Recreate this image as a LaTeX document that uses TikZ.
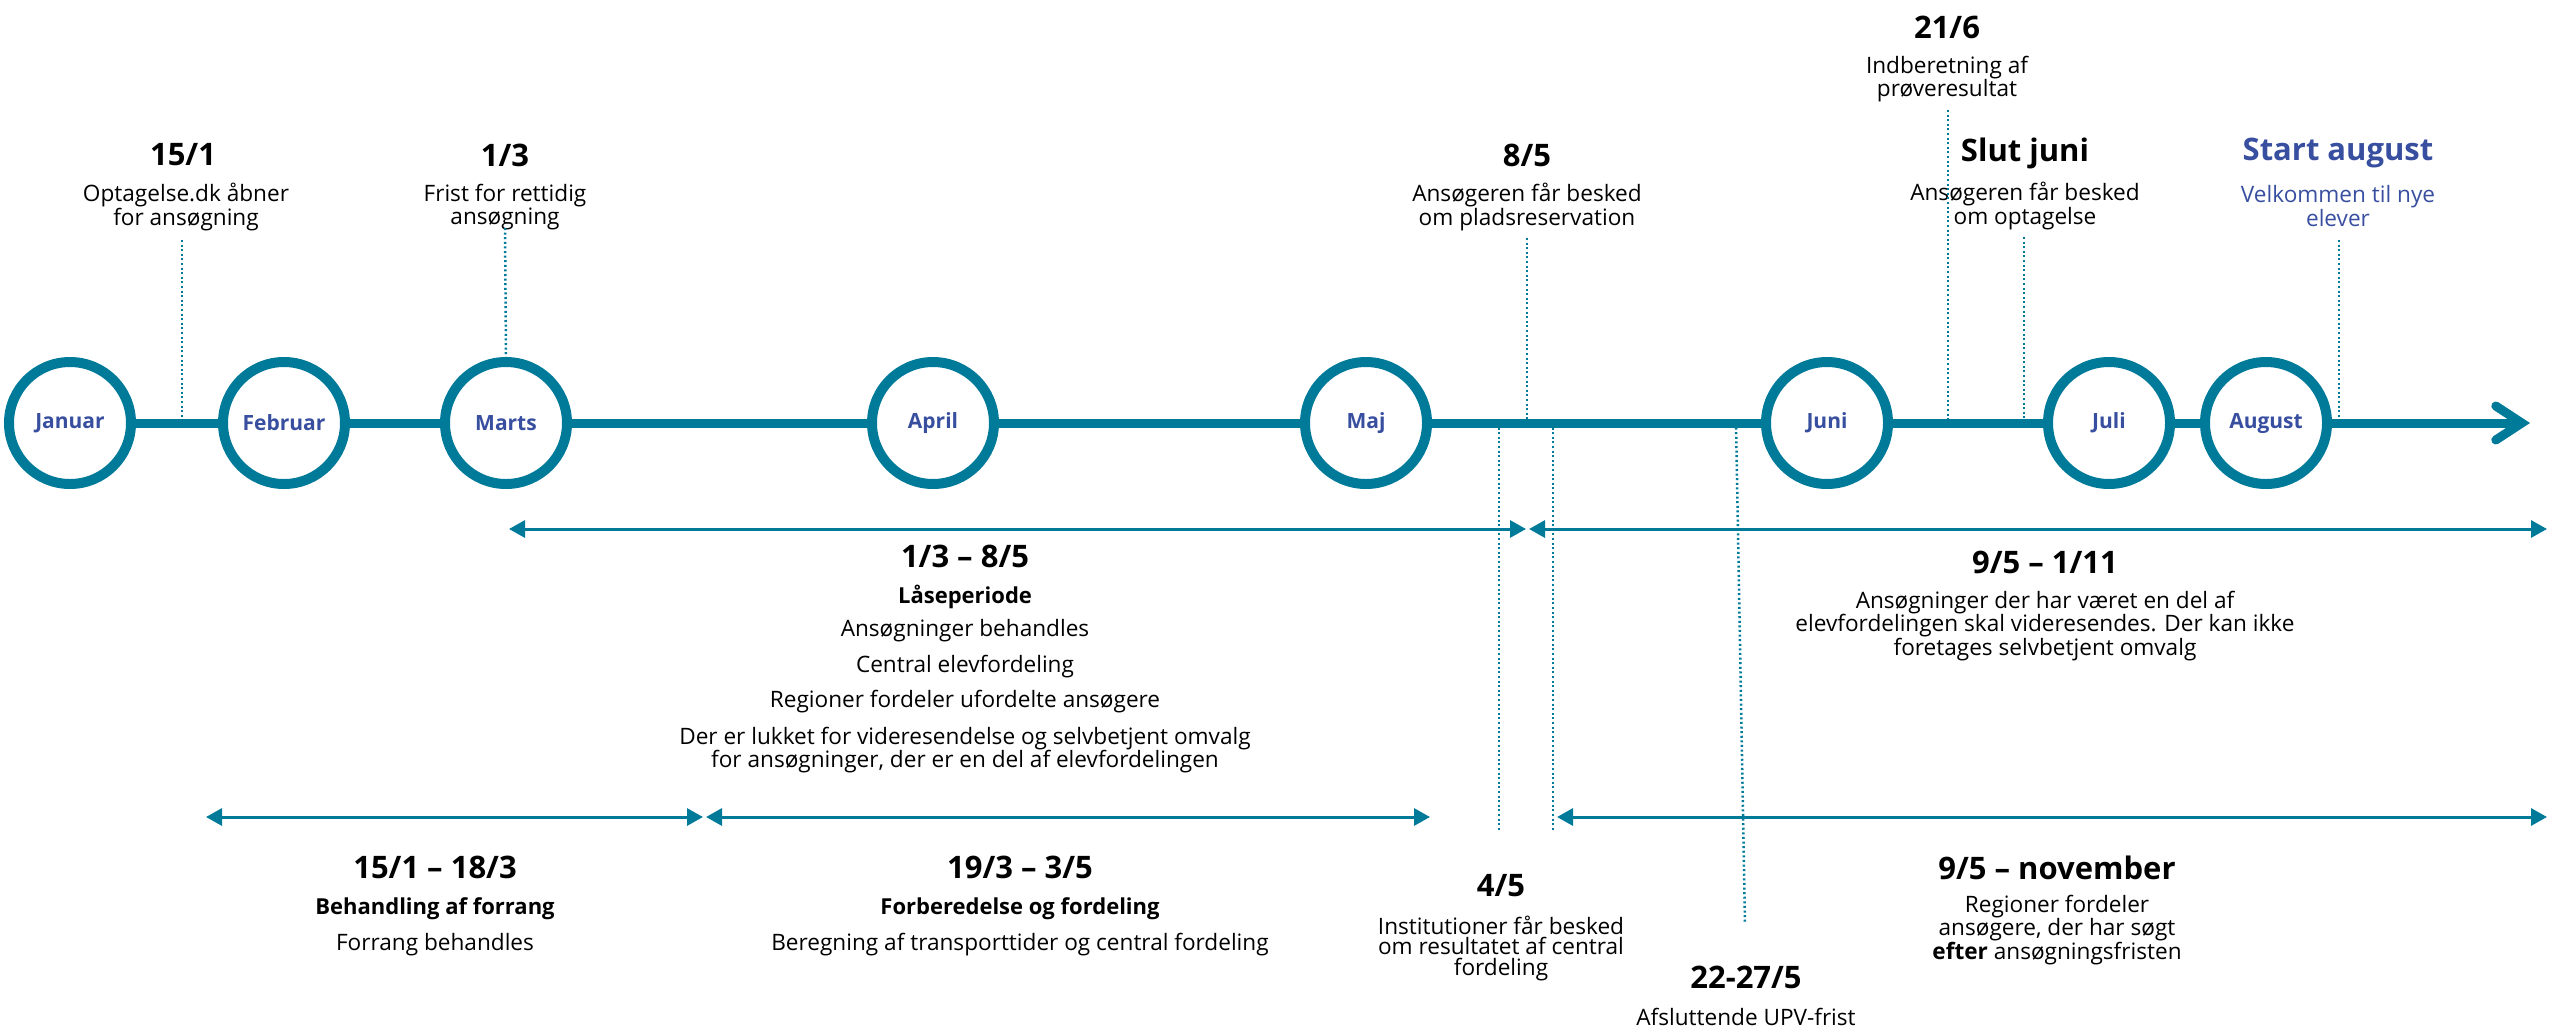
\documentclass[tikz,border=0pt]{standalone}
\usepackage{fontspec}
\setmainfont{Open Sans}
\usetikzlibrary{arrows.meta}
\definecolor{tlteal}{RGB}{0,122,153}
\definecolor{tlblue}{RGB}{56,79,160}

\begin{document}
\begin{tikzpicture}[
   x=1pt, y=-1pt,
   month/.style={circle,draw=tlteal,line width=10pt,fill=white,minimum size=122pt,inner sep=0pt,text=tlblue,font=\bfseries\fontsize{21}{21}\selectfont},
   axis/.style={draw=tlteal,line width=9pt},
   date/.style={font=\bfseries\fontsize{31}{31}\selectfont,inner sep=0pt},
   head/.style={font=\bfseries\fontsize{22}{22}\selectfont,inner sep=0pt},
   txt/.style={font=\fontsize{22.6}{20.5}\selectfont,align=center,inner sep=0pt},
   guide/.style={draw=tlteal,line width=2.5pt,dash pattern=on 2pt off 2.6pt},
   span/.style={{Triangle[length=16pt,width=17pt]}-{Triangle[length=16pt,width=17pt]},draw=tlteal,line width=3pt}]
\useasboundingbox (0,0) rectangle (2549,1026);
% months
\node[month] (jan) at (70,423) {Januar};
\node[month] (feb) at (284,423) {Februar};
\node[month] (mar) at (506,423) {Marts};
\node[month] (apr) at (933,423) {April};
\node[month] (maj) at (1366,423) {Maj};
\node[month] (jun) at (1827,423) {Juni};
\node[month] (jul) at (2109,423) {Juli};
\node[month] (aug) at (2266,423) {August};
\coordinate (end) at (2530,423);
\draw[axis] (jan) -- (feb) -- (mar) -- (apr) -- (maj) -- (jun) -- (jul) -- (aug);
\draw[axis,-{Straight Barb[length=26pt,width=34pt,line cap=round]}] (aug) -- (end);
% dates above
\node[date] (d151) at (183,155) {15/1};
\node[txt] (o151) at (186,207) {Optagelse.dk åbner\\for ansøgning};
\node[date] (d13) at (505,155) {1/3};
\node[txt] (o13) at (505,207) {Frist for rettidig\\ansøgning};
\node[date] (d85) at (1527,155) {8/5};
\node[txt] (o85) at (1527,207) {Ansøgeren får besked\\om pladsreservation};
\node[date] (d216) at (1947,27) {21/6};
\node[txt] (o216) at (1947,79) {Indberetning af\\prøveresultat};
\node[date] (dslut) at (2025,153) {Slut juni};
\node[txt] (oslut) at (2025,206) {Ansøgeren får besked\\om optagelse};
\node[date,text=tlblue] (dstart) at (2338,153) {Start august};
\node[txt,text=tlblue] (ostart) at (2338,206) {Velkommen til nye\\elever};
\coordinate (g151) at (182,240);
\coordinate (g13) at (505,228);
\coordinate (g85) at (1527,238);
\coordinate (g216) at (1948,110);
\coordinate (gslut) at (2024,237);
\coordinate (gstart) at (2339,240);
\draw[guide] (g151) -- (g151 |- jan);
\draw[guide] (g13) -- (mar.north);
\draw[guide] (g85) -- (g85 |- jan);
\draw[guide] (g216) -- (g216 |- jan);
\draw[guide] (gslut) -- (gslut |- jan);
\draw[guide] (gstart) -- (gstart |- jan);
% periods
\coordinate (a1) at (509,529);
\coordinate (a2) at (1526,529);
\coordinate (a3) at (1529,529);
\coordinate (a4) at (2547,529);
\draw[span] (a1) -- (a2);
\draw[span] (a3) -- (a4);
\node[date] (p1) at (965,556) {1/3 – 8/5};
\node[head] (p1h) at (965,597) {Låseperiode};
\node[txt] (p1a) at (965,631) {Ansøgninger behandles};
\node[txt] (p1b) at (965,667) {Central elevfordeling};
\node[txt] (p1c) at (965,702) {Regioner fordeler ufordelte ansøgere};
\node[txt] (p1d) at (965,750) {Der er lukket for videresendelse og selvbetjent omvalg\\for ansøgninger, der er en del af elevfordelingen};
\node[date] (p2) at (2045,562) {9/5 – 1/11};
\node[txt] (p2a) at (2045,626) {Ansøgninger der har været en del af\\elevfordelingen skal videresendes. Der kan ikke\\foretages selvbetjent omvalg};
\coordinate (b1) at (206,817);
\coordinate (b2) at (703,817);
\coordinate (b3) at (706,817);
\coordinate (b4) at (1430,817);
\coordinate (b5) at (1557,817);
\coordinate (b6) at (2547,817);
\draw[span] (b1) -- (b2);
\draw[span] (b3) -- (b4);
\draw[span] (b5) -- (b6);
\node[date] (p3) at (435,867) {15/1 – 18/3};
\node[head] (p3h) at (435,909) {Behandling af forrang};
\node[txt] (p3a) at (435,945) {Forrang behandles};
\node[date] (p4) at (1020,867) {19/3 – 3/5};
\node[head] (p4h) at (1020,909) {Forberedelse og fordeling};
\node[txt] (p4a) at (1020,945) {Beregning af transporttider og central fordeling};
\node[date] (p5) at (2057,868) {9/5 – november};
\node[txt] (p5a) at (2057,930) {Regioner fordeler\\ansøgere, der har søgt\\\textbf{efter} ansøgningsfristen};
% dates below
\node[date] (d45) at (1501,886) {4/5};
\node[txt] (o45) at (1501,948) {Institutioner får besked\\om resultatet af central\\fordeling};
\node[date] (d2227) at (1746,977) {22-27/5};
\node[txt] (o2227) at (1746,1017) {Afsluttende UPV-frist};
\coordinate (g45) at (1499,831);
\coordinate (g95) at (1553,831);
\coordinate (g2227) at (1745,923);
\draw[guide] (g45 |- jan) -- (g45);
\draw[guide] (g95 |- jan) -- (g95);
\draw[guide] (1736,423) -- (g2227);
\end{tikzpicture}
\end{document}
